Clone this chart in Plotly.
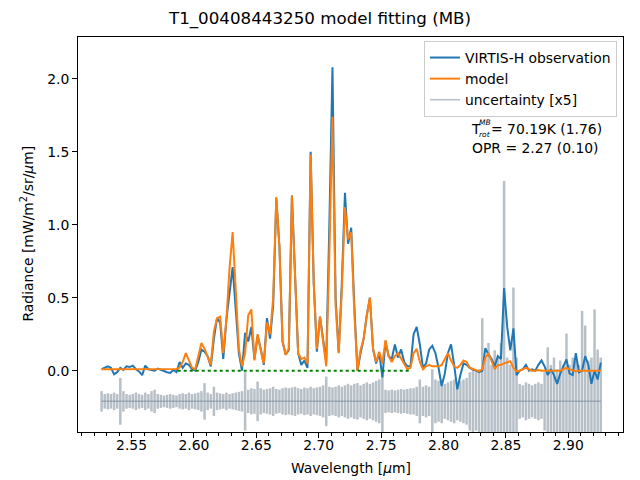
import plotly.graph_objects as go

wavelength = [
    2.526, 2.5285, 2.531, 2.5335, 2.536, 2.5385, 2.541, 2.5435,
    2.546, 2.5485, 2.551, 2.5535, 2.556, 2.5585, 2.561, 2.5635,
    2.566, 2.5685, 2.571, 2.5735, 2.576, 2.5785, 2.581, 2.5835,
    2.586, 2.5885, 2.591, 2.5935, 2.596, 2.5985, 2.601, 2.6035,
    2.606, 2.6085, 2.611, 2.6135, 2.616, 2.6185, 2.621, 2.6235,
    2.626, 2.6285, 2.631, 2.6335, 2.636, 2.6385, 2.641, 2.6435,
    2.646, 2.6485, 2.651, 2.6535, 2.656, 2.6585, 2.661, 2.6635,
    2.666, 2.6685, 2.671, 2.6735, 2.676, 2.6785, 2.681, 2.6835,
    2.686, 2.6885, 2.691, 2.6935, 2.696, 2.6985, 2.701, 2.7035,
    2.706, 2.7085, 2.711, 2.7135, 2.716, 2.7185, 2.721, 2.7235,
    2.726, 2.7285, 2.731, 2.7335, 2.736, 2.7385, 2.741, 2.7435,
    2.746, 2.7485, 2.751, 2.7535, 2.756, 2.7585, 2.761, 2.7635,
    2.766, 2.7685, 2.771, 2.7735, 2.776, 2.7785, 2.781, 2.7835,
    2.786, 2.7885, 2.791, 2.7935, 2.796, 2.7985, 2.801, 2.8035,
    2.806, 2.8085, 2.811, 2.8135, 2.816, 2.8185, 2.821, 2.8235,
    2.826, 2.8285, 2.831, 2.8335, 2.836, 2.8385, 2.841, 2.8435,
    2.846, 2.8485, 2.851, 2.8535, 2.856, 2.8585, 2.861, 2.8635,
    2.866, 2.8685, 2.871, 2.8735, 2.876, 2.8785, 2.881, 2.8835,
    2.886, 2.8885, 2.891, 2.8935, 2.896, 2.8985, 2.901, 2.9035,
    2.906, 2.9085, 2.911, 2.9135, 2.916, 2.9185, 2.921, 2.9235,
    2.926,
]

observation = [
    0.01, 0.02, 0.03, 0.02, -0.025, -0.01, 0.02, 0.005, 0.03, 0.025,
    0.035, 0.01, -0.005, -0.03, 0.035, 0.01, 0.005, 0.0, 0.015, 0.005,
    0.0, -0.01, -0.015, 0.005, -0.01, 0.06, 0.02, 0.05, 0.04, 0.01,
    0.0, 0.06, 0.145, 0.13, 0.10, 0.03, 0.22, 0.36, 0.33, 0.08,
    0.35, 0.55, 0.71, 0.42, 0.12, 0.0, 0.26, 0.2, 0.30, 0.08,
    0.24, 0.15, 0.04, 0.36, 0.22, 0.45, 1.18, 0.85, 0.2, 0.11,
    0.14, 1.2, 0.6, 0.12, 0.04, 0.07, 0.02, 1.5, 0.6, 0.13,
    0.37, 0.2, 0.06, 1.0, 2.08, 0.5, 0.125, 0.6, 1.22, 0.87,
    0.98, 0.45, 0.0, 0.12, 0.22, 0.38, 0.5, 0.15, 0.05, 0.12,
    -0.046, 0.2, 0.1, 0.08, 0.18, 0.09, 0.146, 0.06, 0.03, 0.03,
    0.25, 0.3, 0.18, 0.02, 0.05, 0.146, 0.17, 0.12, 0.02, -0.105,
    -0.02, 0.12, 0.18, 0.04, -0.128, -0.03, 0.05, 0.04, 0.02, 0.01,
    0.0, -0.01, 0.0, 0.155, 0.11, 0.08, 0.03, 0.1, 0.08, 0.567,
    0.3, 0.14, 0.29, -0.03, 0.0, 0.01, 0.04, 0.0, 0.01, 0.0,
    0.04, 0.07, 0.03, -0.03, 0.01, -0.03, -0.09, -0.02, 0.03, 0.077,
    -0.02, -0.03, 0.12, -0.01, 0.0, 0.1, 0.04, -0.09, 0.0, -0.06,
    0.055,
]

model = [
    0.01, 0.01, 0.012, 0.01, 0.008, 0.008, 0.01, 0.01, 0.012, 0.01,
    0.01, 0.01, 0.008, 0.008, 0.01, 0.01, 0.008, 0.008, 0.01, 0.01,
    0.008, 0.008, 0.01, 0.01, 0.012, 0.02, 0.06, 0.12, 0.07, 0.02,
    0.01, 0.1, 0.19, 0.15, 0.1, 0.04, 0.27, 0.36, 0.37, 0.12,
    0.35, 0.7, 0.95, 0.5, 0.15, 0.03, 0.12, 0.38, 0.42, 0.07,
    0.25, 0.14, 0.05, 0.33, 0.25, 0.5, 1.19, 0.85, 0.2, 0.11,
    0.15, 1.2, 0.6, 0.12, 0.08, 0.09, 0.05, 1.48, 0.6, 0.15,
    0.37, 0.2, 0.03, 0.8, 1.74, 0.45, 0.12, 0.55, 1.12, 0.9,
    0.95, 0.4, 0.0, 0.14, 0.22, 0.38, 0.5, 0.15, 0.06, 0.13,
    0.05, 0.21, 0.1, 0.06, 0.1, 0.12, 0.08, 0.04, 0.01, 0.02,
    0.12, 0.15, 0.06, 0.01, 0.03, 0.04, 0.03, 0.03, 0.03, 0.04,
    0.08, 0.12, 0.07, 0.03, 0.02, 0.04, 0.07, 0.06, 0.02, 0.01,
    0.0, -0.005, 0.01, 0.09, 0.12, 0.06, 0.01, 0.04, 0.04, 0.05,
    0.06, 0.065, 0.02, -0.005, 0.0, 0.01, 0.02, 0.01, 0.0, 0.0,
    0.005, 0.0, 0.0, 0.0, -0.002, 0.0, 0.0, 0.0, 0.01, 0.02,
    0.01, 0.0, -0.005, 0.0, 0.0, -0.002, -0.005, 0.0, 0.0, -0.002,
    0.0,
]

uncertainty_x5 = [
    0.07, 0.05, 0.055, 0.05, 0.06, 0.05, 0.16, 0.07, 0.05, 0.045,
    0.05, 0.06, 0.05, 0.045, 0.06, 0.05, 0.07, 0.08, 0.05, 0.045,
    0.04, 0.045, 0.05, 0.045, 0.04, 0.05, 0.055, 0.05, 0.06, 0.05,
    0.055, 0.06, 0.07, 0.125, 0.06, 0.05, 0.1, 0.06, 0.055, 0.05,
    0.06, 0.05, 0.055, 0.06, 0.065, 0.07, 0.2, 0.08, 0.09, 0.085,
    0.135, 0.09, 0.08, 0.085, 0.09, 0.1, 0.085, 0.08, 0.09, 0.095,
    0.09, 0.095, 0.1, 0.09, 0.085, 0.095, 0.09, 0.1, 0.09, 0.095,
    0.1, 0.11, 0.17, 0.1, 0.095, 0.1, 0.11, 0.1, 0.11, 0.12,
    0.11, 0.12, 0.125, 0.11, 0.12, 0.13, 0.12, 0.13, 0.14, 0.15,
    0.22, 0.08, 0.075, 0.08, 0.075, 0.08, 0.085, 0.08, 0.085, 0.09,
    0.09, 0.1, 0.15, 0.1, 0.11, 0.1, 0.22, 0.15, 0.14, 0.15,
    0.12, 0.13, 0.14, 0.15, 0.13, 0.14, 0.15, 0.16, 0.2, 0.22,
    0.2, 0.22, 0.57, 0.3, 0.4, 0.25, 0.35, 0.3, 0.4, 1.51,
    0.3, 0.25, 0.78, 0.3, 0.12, 0.11, 0.13, 0.12, 0.11, 0.12,
    0.13, 0.12, 0.2, 0.37, 0.25, 0.3, 0.22, 0.28, 0.25, 0.465,
    0.25, 0.3, 0.28, 0.25, 0.62, 0.52, 0.28, 0.3, 0.63, 0.355,
    0.3,
]

uncertainty_offset = -0.21
fit_range = [2.587, 2.773]
fit_level = [0.0, 0.0]

title_text = "T1_00408443250 model fitting (MB)"
trot_text = "= 70.19K (1.76)"
opr_text = "OPR = 2.27 (0.10)"

FONT = "DejaVu Sans"
W, H = 640, 480
L, R, T, B = 78, 623, 37, 432


def px_x(px):
    return (px - L) / (R - L)


def px_y(py):
    return (B - py) / (B - T)


fig = go.Figure()

fig.add_trace(go.Scatter(
    x=wavelength,
    y=[uncertainty_offset] * len(wavelength),
    mode="lines",
    name="uncertainty [x5]",
    line=dict(color="rgba(112,128,144,0.5)", width=1.5),
    error_y=dict(type="data", array=uncertainty_x5, visible=True,
                 color="rgba(112,128,144,0.5)", thickness=2.5, width=0),
    legendrank=3,
))
fig.add_trace(go.Scatter(
    x=wavelength, y=observation, mode="lines", name="VIRTIS-H observation",
    line=dict(color="#1f77b4", width=2), legendrank=1,
))
fig.add_trace(go.Scatter(
    x=wavelength, y=model, mode="lines", name="model",
    line=dict(color="#ff7f0e", width=2), legendrank=2,
))
fig.add_trace(go.Scatter(
    x=fit_range, y=fit_level, mode="lines", showlegend=False,
    line=dict(color="green", width=2, dash="dot"),
))

axis_common = dict(
    showline=True, linecolor="black", linewidth=1, mirror=True,
    ticks="outside", ticklen=5, tickwidth=1, tickcolor="black",
    showgrid=False, zeroline=False,
    tickfont=dict(family=FONT, size=13.9, color="black"),
)

fig.update_xaxes(
    range=[2.5071, 2.9438], tick0=2.5, dtick=0.05, tickformat=".2f",
    ticklabelstandoff=-5,
    minor=dict(ticks="outside", ticklen=3, tickwidth=1, tickcolor="black",
               dtick=0.01, tick0=2.5, showgrid=False),
    **axis_common,
)
fig.update_yaxes(
    range=[-0.42, 2.287], tick0=0, dtick=0.5, tickformat=".1f",
    **axis_common,
)

annotations = [
    dict(text="Wavelength [<i>μ</i>m]", x=px_x(350.5), y=px_y(468),
         xanchor="center", yanchor="middle"),
    dict(text="Radiance [mW/m<sup>2</sup>/sr/<i>μ</i>m]", x=px_x(27.5), y=px_y(234),
         xanchor="center", yanchor="middle", textangle=-90),
    dict(text="T", x=px_x(469.5), y=px_y(129), xanchor="left", yanchor="middle",
         borderpad=0),
    dict(text="<i>MB</i>", x=px_x(478), y=px_y(122.5), xanchor="left",
         yanchor="middle", borderpad=0,
         font=dict(family=FONT, size=7.5, color="black")),
    dict(text="<i>rot</i>", x=px_x(478), y=px_y(134.5), xanchor="left",
         yanchor="middle", borderpad=0,
         font=dict(family=FONT, size=7.5, color="black")),
    dict(text=trot_text, x=px_x(490), y=px_y(129), xanchor="left", yanchor="middle",
         borderpad=0),
    dict(text=opr_text, x=px_x(470), y=px_y(148), xanchor="left", yanchor="middle"),
]
for a in annotations:
    a.setdefault("font", dict(family=FONT, size=13.9, color="black"))
    a.update(xref="paper", yref="paper", showarrow=False)

fig.update_layout(
    width=W, height=H,
    margin=dict(l=L, r=W - R, t=T, b=H - B, autoexpand=False),
    paper_bgcolor="white", plot_bgcolor="white",
    font=dict(family=FONT, size=13.9, color="black"),
    title=dict(text=title_text, x=0.5, xanchor="center", xref="container",
               y=1 - 18 / H, yanchor="middle", yref="container",
               font=dict(family=FONT, size=16.7, color="black")),
    legend=dict(x=px_x(617), y=px_y(41), xanchor="right", yanchor="top",
                bgcolor="rgba(255,255,255,0.8)", bordercolor="#cccccc",
                borderwidth=1, font=dict(family=FONT, size=13.9, color="black"),
                itemwidth=30, tracegroupgap=0),
    annotations=annotations,
    showlegend=True,
)

fig.write_html(
    "out.html",
    config={"displayModeBar": False},
    post_script="document.body.style.margin='0';document.body.style.padding='0';",
)
